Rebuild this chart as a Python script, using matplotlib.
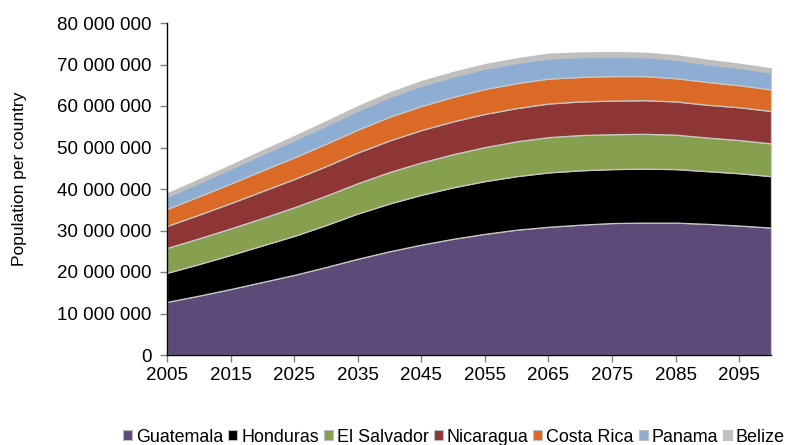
import matplotlib
matplotlib.use("Agg")
import matplotlib.pyplot as plt
from matplotlib.patches import Patch
from matplotlib.ticker import FuncFormatter

plt.rcParams['font.family'] = ['Liberation Sans', 'DejaVu Sans']

years = list(range(2005, 2101, 5))
countries = ["Guatemala", "Honduras", "El Salvador", "Nicaragua", "Costa Rica", "Panama", "Belize"]

guatemala = [12.8, 14.3, 15.9, 17.6, 19.3, 21.2, 23.2, 25.0, 26.6, 28.0,
             29.2, 30.2, 30.9, 31.4, 31.8, 31.9, 31.9, 31.6, 31.2, 30.7]
honduras = [7.0, 7.6, 8.2, 8.8, 9.4, 10.1, 10.9, 11.5, 12.0, 12.4,
            12.7, 12.9, 13.1, 13.1, 13.0, 13.0, 12.9, 12.7, 12.6, 12.4]
el_salvador = [6.0, 6.2, 6.4, 6.6, 6.9, 7.1, 7.3, 7.6, 7.8, 8.0,
               8.2, 8.4, 8.5, 8.5, 8.4, 8.4, 8.3, 8.1, 8.0, 7.9]
nicaragua = [5.3, 5.7, 6.1, 6.5, 6.8, 7.1, 7.4, 7.6, 7.8, 7.9,
             8.0, 8.0, 8.1, 8.1, 8.1, 8.1, 8.0, 7.9, 7.9, 7.8]
costa_rica = [4.1, 4.4, 4.7, 5.0, 5.2, 5.4, 5.5, 5.7, 5.8, 5.9,
              6.0, 6.0, 6.0, 5.9, 5.9, 5.8, 5.6, 5.5, 5.3, 5.2]
panama = [3.1, 3.4, 3.7, 4.0, 4.3, 4.5, 4.7, 4.9, 5.0, 5.0,
          5.0, 5.0, 5.0, 4.9, 4.8, 4.7, 4.6, 4.4, 4.3, 4.2]
belize = [0.5, 0.55, 0.6, 0.65, 0.7, 0.75, 0.8, 0.8, 0.85, 0.85,
          0.85, 0.85, 0.85, 0.85, 0.85, 0.8, 0.8, 0.8, 0.75, 0.7]

series = [guatemala, honduras, el_salvador, nicaragua, costa_rica, panama, belize]
series = [[v * 1e6 for v in s] for s in series]
colors = ["#5C4A78", "#000000", "#87A04F", "#8E3536", "#DA6A26", "#8EADD3", "#BFBFBF"]

fig = plt.figure(figsize=(7.91, 4.45), dpi=100)
ax = fig.add_axes([167/791, 1 - 355/445, (771 - 167)/791, (355 - 23)/445])

polys = ax.stackplot(years, *series, colors=colors, edgecolor="#C8C8C8", linewidth=0.9)
polys[-1].set_edgecolor("#BFBFBF")
polys[-1].set_linewidth(1.8)

ax.set_xlim(2005, 2100)
ax.set_ylim(0, 80e6)
ax.set_xticks(list(range(2005, 2100, 10)))
ax.set_yticks([i * 10e6 for i in range(9)])
ax.yaxis.set_major_formatter(FuncFormatter(lambda v, p: f"{int(v):,}".replace(",", " ")))
for s in ["top", "right"]:
    ax.spines[s].set_visible(False)
for s in ["left", "bottom"]:
    ax.spines[s].set_color("black")
    ax.spines[s].set_linewidth(1.0)
ax.tick_params(axis="both", labelsize=13.5, direction="out", length=5, color="#808080", width=1)
ax.tick_params(axis="y", pad=6)
ax.tick_params(axis="x", pad=4)
ax.set_ylabel("Population per country", fontsize=12.5)
ax.yaxis.set_label_coords(-0.232, 0.53)

handles = [Patch(facecolor=c, edgecolor="#BFBFBF", linewidth=0.8) for c in colors]
fig.legend(handles, countries, loc="center", bbox_to_anchor=(0.574, 1 - 437/445),
           ncol=7, frameon=False, fontsize=12.9, handlelength=0.5, handleheight=0.5,
           handletextpad=0.2, columnspacing=0.3, borderaxespad=0)

fig.savefig("out.png", dpi=100)
